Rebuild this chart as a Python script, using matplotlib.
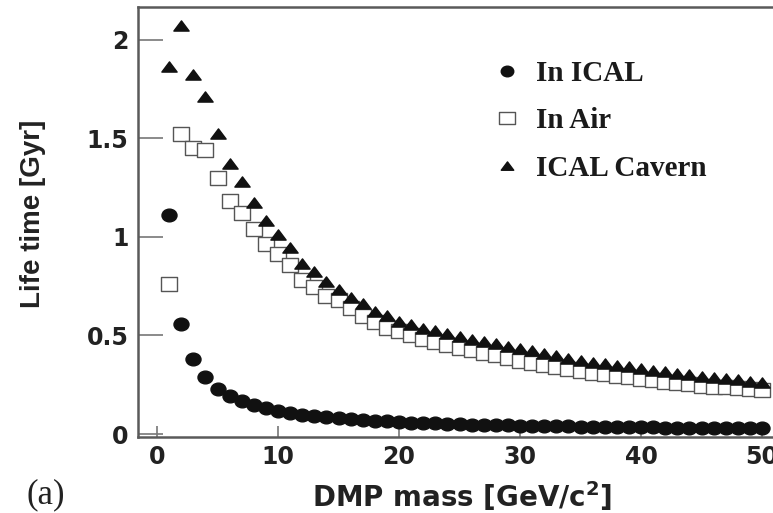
import numpy as np
import matplotlib
matplotlib.use('Agg')
import matplotlib.pyplot as plt
from matplotlib.path import Path

# --- dados ---
massa = list(range(1, 51))

vida_ical = [1.11, 0.56, 0.38, 0.29, 0.23, 0.195, 0.165, 0.145, 0.13, 0.117,
             0.107, 0.098, 0.091, 0.085, 0.079, 0.075, 0.071, 0.067, 0.064, 0.061,
             0.058, 0.056, 0.054, 0.052, 0.050, 0.048, 0.047, 0.045, 0.044, 0.043,
             0.042, 0.041, 0.040, 0.039, 0.038, 0.037, 0.036, 0.036, 0.035, 0.034,
             0.034, 0.033, 0.033, 0.032, 0.032, 0.031, 0.031, 0.030, 0.030, 0.030]

vida_ar = [0.76, 1.52, 1.45, 1.44, 1.30, 1.18, 1.12, 1.04, 0.965, 0.915,
           0.855, 0.78, 0.745, 0.70, 0.68, 0.64, 0.60, 0.57, 0.54, 0.52,
           0.50, 0.48, 0.465, 0.45, 0.435, 0.425, 0.412, 0.40, 0.385, 0.37,
           0.36, 0.35, 0.34, 0.33, 0.32, 0.312, 0.304, 0.296, 0.288, 0.28,
           0.273, 0.266, 0.259, 0.252, 0.245, 0.241, 0.237, 0.233, 0.229, 0.225]

vida_caverna = [1.86, 2.07, 1.82, 1.71, 1.52, 1.37, 1.28, 1.17, 1.08, 1.01,
                0.945, 0.86, 0.82, 0.77, 0.73, 0.69, 0.66, 0.62, 0.60, 0.57,
                0.555, 0.535, 0.52, 0.505, 0.49, 0.478, 0.466, 0.454, 0.442, 0.43,
                0.42, 0.408, 0.395, 0.382, 0.372, 0.362, 0.354, 0.346, 0.338, 0.33,
                0.322, 0.314, 0.306, 0.298, 0.29, 0.284, 0.278, 0.272, 0.266, 0.26]

rotulos = ['In ICAL', 'In Air', 'ICAL Cavern']
xticks = [0, 10, 20, 30, 40, 50]
yticks = [0, 0.5, 1, 1.5, 2]
yticklabels = ['0', '0.5', '1', '1.5', '2']

# marcadores levemente "esticados" na horizontal, como na figura original
circ = Path.unit_circle()
m_circulo = Path(circ.vertices * [1.18, 1.0], circ.codes)
m_quadrado = Path([(-1.3, -1), (1.3, -1), (1.3, 1), (-1.3, 1), (-1.3, -1)],
                  [Path.MOVETO, Path.LINETO, Path.LINETO, Path.LINETO, Path.CLOSEPOLY])
m_triangulo = Path([(-1.5, -0.9), (1.5, -0.9), (0, 1.1), (-1.5, -0.9)],
                   [Path.MOVETO, Path.LINETO, Path.LINETO, Path.CLOSEPOLY])

fig = plt.figure(figsize=(7.73, 5.13), dpi=100)
ax = fig.add_axes([138 / 773, 1 - 437 / 513, (773 - 138) / 773, (437 - 7) / 513])

ax.plot(massa, vida_ical, linestyle='none', marker=m_circulo, markersize=10.8,
        color='#111111', label=rotulos[0])
ax.plot(massa, vida_ar, linestyle='none', marker=m_quadrado, markersize=12.2,
        markerfacecolor='white', markeredgecolor='#555555', markeredgewidth=1.0,
        label=rotulos[1])
ax.plot(massa, vida_caverna, linestyle='none', marker=m_triangulo, markersize=11,
        color='#111111', label=rotulos[2])

ax.set_xlim(-1.57, 50.9)
ax.set_ylim(-0.015, 2.165)

ax.set_xticks(xticks)
ax.set_yticks(yticks)
ax.set_yticklabels(yticklabels)
for lab in ax.get_xticklabels() + ax.get_yticklabels():
    lab.set_fontfamily('DejaVu Sans')
    lab.set_fontweight('bold')
    lab.set_fontsize(17)
    lab.set_color('#222222')

ax.tick_params(axis='x', direction='in', length=8, width=1.2, color='#777777', pad=6)
ax.tick_params(axis='y', direction='in', length=18, width=1.2, color='#777777', pad=7)

for lado in ['left', 'bottom', 'top']:
    ax.spines[lado].set_color('#5a5a5a')
    ax.spines[lado].set_linewidth(1.8)
ax.spines['right'].set_visible(False)

fig.text(33 / 773, 1 - 214 / 513, 'Life time [Gyr]', rotation=90, ha='center', va='center',
         fontsize=20, fontweight='bold', family='Liberation Sans', color='#222222')
fig.text(462 / 773, 1 - 507 / 513, 'DMP mass [GeV/c$^{\\mathbf{2}}$]', ha='center', va='baseline',
         fontsize=20, fontweight='bold', family='DejaVu Sans', color='#222222')
fig.text(46 / 773, 1 - 503 / 513, '(a)', ha='center', va='baseline',
         fontsize=25, family='Liberation Serif', color='#222222')

leg = ax.legend(loc='upper left', bbox_to_anchor=(492 / 773, 1 - 60 / 513),
                bbox_transform=fig.transFigure, frameon=False, borderpad=0,
                borderaxespad=0, handlelength=1.0, handletextpad=0.5,
                labelspacing=0.70, prop={'family': 'Liberation Serif',
                                         'weight': 'bold', 'size': 21})
for h, ms in zip(leg.legend_handles, [9, 11, 9]):
    h.set_markersize(ms)
for t in leg.get_texts():
    t.set_color('#1a1a1a')

fig.savefig('out.png', dpi=100)
